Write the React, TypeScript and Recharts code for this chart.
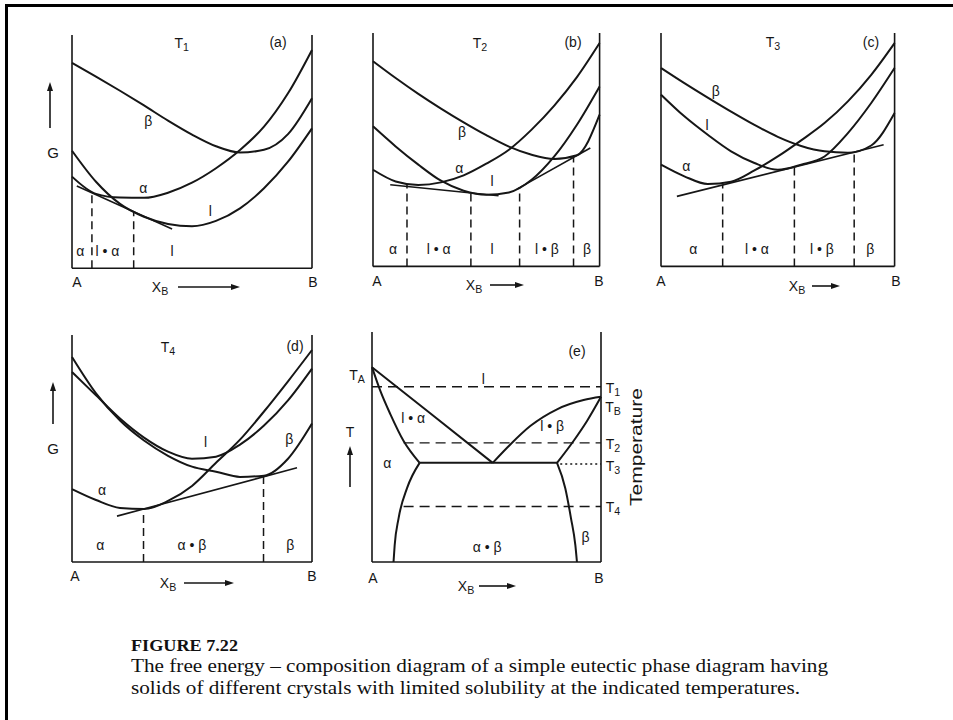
import React from 'react'
import { LineChart, Line, XAxis, YAxis, ReferenceLine, ReferenceDot } from 'recharts'

const INK = '#161616'
const FONT = '"Liberation Sans", Arial, sans-serif'
const SERIF = '"Liberation Serif", "DejaVu Serif", serif'
const M = 24

// composition grid shared by the G(x) curves, A = 0 .. B = 1
const gridX = [0, 0.1, 0.2, 0.3, 0.4, 0.5, 0.6, 0.7, 0.8, 0.9, 1]

// (a) T1
const aBeta = [88.1, 82.2, 76.1, 69.8, 63.3, 57.3, 52.3, 49.6, 50.8, 57.5, 72.9]
const aAlpha = [39.3, 31.9, 30.3, 30.2, 32.4, 36.7, 42.9, 50.7, 60.7, 75, 93.6]
const aLiquid = [50.4, 37.1, 27.6, 22.1, 19, 18, 20.3, 25.7, 34.3, 45.7, 60]
const aTangentX = [0.02, 0.417]
const aTangentG = [35.3, 16.8]
const aSplitX = [0.083, 0.257]
const aSplitG = [32.4, 24.3]
const aPhases = ['α', 'l • α', 'l']

// (b) T2
const bBeta = [87.9, 80.7, 73.9, 67.6, 61.7, 56.2, 51.3, 47.8, 46, 47.6, 65]
const bAlpha = [41.4, 36.4, 34.9, 36, 39, 44, 50, 58.6, 68.9, 81.1, 95.7]
const bLiquid = [60, 51.4, 43.6, 36.7, 32.4, 30.7, 31.7, 37.1, 47.1, 60.7, 77.1]
const bTangent1X = [0.076, 0.554]
const bTangent1G = [35, 30.3]
const bTangent2X = [0.635, 0.959]
const bTangent2G = [33.1, 50.7]
const bSplitX = [0.15, 0.432, 0.647, 0.885]
const bSplitG = [35, 31.7, 34, 46.4]
const bPhases = ['α', 'l • α', 'l', 'l • β', 'β']

// (c) T3
const cBeta = [85, 78.5, 72.3, 66.3, 60.6, 55.5, 51.6, 49.3, 48.7, 51.8, 65.7]
const cAlpha = [43.6, 38.6, 35.3, 36.3, 41.1, 47.1, 54, 61.4, 70.7, 82.1, 95.7]
const cLiquid = [73.6, 64.3, 56.4, 49.3, 44.3, 41.4, 43.6, 47.1, 57.1, 70, 85]
const cTangentX = [0.068, 0.953]
const cTangentG = [30, 52.1]
const cSplitX = [0.264, 0.571, 0.827]
const cSplitG = [35, 42.4, 49.3]
const cPhases = ['α', 'l • α', 'l • β', 'β']

// (d) T4
const dBeta = [90.3, 74.3, 62.3, 53.5, 46.8, 42, 39.8, 37.5, 38, 45.5, 61]
const dLiquid = [83.7, 73.4, 63.2, 54.8, 48.6, 45.5, 46.4, 51.7, 60.1, 71.2, 85.2]
const dAlpha = [32.1, 27.3, 23.8, 23.3, 26.9, 33.5, 43.7, 53.9, 66.3, 79.6, 93.4]
const dTangentX = [0.1875, 0.9375]
const dTangentG = [20.2, 41.5]
const dSplitX = [0.298, 0.798]
const dSplitG = [23.3, 37.5]
const dPhases = ['α', 'α • β', 'β']

// (e) phase diagram, T in % of panel height
const eLiqLeftX = [0, 0.25, 0.527]
const eLiqLeftT = [84.7, 65, 43.1]
const eLiqRightX = [0.527, 0.604, 0.691, 0.808, 0.924, 1]
const eLiqRightT = [43.1, 51.1, 59.1, 66.4, 70.4, 71.8]
const eSolLeftX = [0, 0.036, 0.08, 0.138, 0.208]
const eSolLeftT = [84.7, 74.5, 64.3, 52.6, 43.1]
const eSolRightX = [0.808, 0.88, 0.939, 1]
const eSolRightT = [43.1, 52.6, 61.3, 71.8]
const eSolvLeftX = [0.094, 0.099, 0.116, 0.153, 0.208]
const eSolvLeftT = [0, 7.3, 19, 32.1, 43.1]
const eSolvRightX = [0.808, 0.844, 0.869, 0.888, 0.895]
const eSolvRightT = [43.1, 32.1, 19, 7.3, 0]
const eEutecticX = [0.208, 0.808]
const eEutecticT = [43.1, 43.1]
const eIsoT = [76.2, 51.8, 42.6, 24.1]
const eIsoFrom = [0, 0.138, 0.822, 0.138]

type Box = { x: number; y: number; w: number; h: number }
type Tag = { t: string; x: number; y: number }

const A_BOX: Box = { x: 71.7, y: 35, w: 240, h: 233.3 }
const B_BOX: Box = { x: 372.7, y: 33.3, w: 226.6, h: 233.4 }
const C_BOX: Box = { x: 660.7, y: 33.3, w: 233.6, h: 233.4 }
const D_BOX: Box = { x: 71.7, y: 335, w: 240, h: 227 }
const E_BOX: Box = { x: 371.7, y: 331.7, w: 229, h: 230 }

const aTags: Tag[] = [
  { t: 'β', x: 0.318, y: 63.2 },
  { t: 'α', x: 0.297, y: 34.6 },
  { t: 'l', x: 0.576, y: 24.5 },
]
const bTags: Tag[] = [
  { t: 'β', x: 0.393, y: 57.6 },
  { t: 'α', x: 0.381, y: 42.3 },
  { t: 'l', x: 0.525, y: 36.5 },
]
const cTags: Tag[] = [
  { t: 'β', x: 0.235, y: 75.2 },
  { t: 'l', x: 0.197, y: 60.4 },
  { t: 'α', x: 0.108, y: 42.8 },
]
const dTags: Tag[] = [
  { t: 'l', x: 0.556, y: 52.7 },
  { t: 'β', x: 0.905, y: 54 },
  { t: 'α', x: 0.125, y: 31.5 },
]
const aPhaseX = [0.035, 0.148, 0.417]
const bPhaseX = [0.088, 0.29, 0.525, 0.768, 0.944]
const cPhaseX = [0.138, 0.411, 0.689, 0.896]
const dPhaseX = [0.118, 0.5, 0.91]
const eTags: Tag[] = [
  { t: 'l', x: 0.486, y: 79.7 },
  { t: 'l • α', x: 0.18, y: 62.6 },
  { t: 'l • β', x: 0.787, y: 59.1 },
  { t: 'α', x: 0.067, y: 42.9 },
  { t: 'α • β', x: 0.503, y: 6.6 },
  { t: 'β', x: 0.932, y: 11 },
]

function pts(xs: number[], ys: number[]) {
  return xs.map((x, i) => ({ x, g: ys[i] }))
}

function curve(key: string, xs: number[], ys: number[], kind: 'monotone' | 'linear' = 'monotone', width = 2) {
  return (
    <Line
      key={key}
      data={pts(xs, ys)}
      dataKey="g"
      type={kind}
      stroke={INK}
      strokeWidth={width}
      dot={false}
      activeDot={false}
      isAnimationActive={false}
    />
  )
}

function tag(key: string, x: number, y: number, text: string, size = 14) {
  return (
    <ReferenceDot
      key={key}
      x={x}
      y={y}
      r={0}
      fill="none"
      stroke="none"
      ifOverflow="visible"
      label={{ value: text, position: 'center', fill: INK, fontSize: size }}
    />
  )
}

type GPanelProps = {
  box: Box
  curves: number[][]
  tangents: number[][][]
  splitX: number[]
  splitG: number[]
  phases: string[]
  phaseX: number[]
  tags: Tag[]
}

function GPanel({ box, curves, tangents, splitX, splitG, phases, phaseX, tags }: GPanelProps) {
  return (
    <div style={{ position: 'absolute', left: box.x - M, top: box.y - M }}>
      <LineChart width={box.w + 2 * M} height={box.h + 2 * M} margin={{ top: M, right: M, bottom: M, left: M }}>
        <XAxis type="number" dataKey="x" domain={[0, 1]} hide />
        <YAxis type="number" domain={[0, 100]} hide />
        <ReferenceLine x={0} stroke={INK} strokeWidth={1.6} />
        <ReferenceLine x={1} stroke={INK} strokeWidth={1.6} />
        <ReferenceLine y={0} stroke={INK} strokeWidth={1.6} />
        {splitX.map((sx, i) => (
          <ReferenceLine
            key={'s' + i}
            segment={[{ x: sx, y: 0 }, { x: sx, y: splitG[i] }]}
            stroke={INK}
            strokeWidth={1.5}
            strokeDasharray="8 5"
          />
        ))}
        {curves.map((c, i) => curve('c' + i, gridX, c))}
        {tangents.map(([tx, tg], i) => curve('t' + i, tx, tg, 'linear', 1.6))}
        {phases.map((p, i) => tag('p' + i, phaseX[i], 7.5, p))}
        {tags.map((t, i) => tag('g' + i, t.x, t.y, t.t))}
      </LineChart>
    </div>
  )
}

function PhasePanel() {
  const box = E_BOX
  return (
    <div style={{ position: 'absolute', left: box.x - M, top: box.y - M }}>
      <LineChart width={box.w + 2 * M} height={box.h + 2 * M} margin={{ top: M, right: M, bottom: M, left: M }}>
        <XAxis type="number" dataKey="x" domain={[0, 1]} hide />
        <YAxis type="number" domain={[0, 100]} hide />
        <ReferenceLine x={0} stroke={INK} strokeWidth={1.6} />
        <ReferenceLine x={1} stroke={INK} strokeWidth={1.6} />
        <ReferenceLine y={0} stroke={INK} strokeWidth={1.6} />
        {eIsoT.map((t, i) => (
          <ReferenceLine
            key={'iso' + i}
            segment={[{ x: eIsoFrom[i], y: t }, { x: 1, y: t }]}
            stroke={INK}
            strokeWidth={1.4}
            strokeDasharray={i === 2 ? '2 3' : '10 6'}
          />
        ))}
        {curve('ll', eLiqLeftX, eLiqLeftT, 'linear')}
        {curve('lr', eLiqRightX, eLiqRightT)}
        {curve('sl', eSolLeftX, eSolLeftT)}
        {curve('sr', eSolRightX, eSolRightT)}
        {curve('vl', eSolvLeftX, eSolvLeftT)}
        {curve('vr', eSolvRightX, eSolvRightT)}
        {curve('eu', eEutecticX, eEutecticT, 'linear')}
        {eTags.map((t, i) => tag('e' + i, t.x, t.y, t.t))}
      </LineChart>
    </div>
  )
}

function Sub({ x, y, m, s, size = 14 }: { x: number; y: number; m: string; s: string; size?: number }) {
  return (
    <text x={x} y={y} textAnchor="middle" dominantBaseline="central" fontSize={size} fill={INK}>
      {m}
      <tspan dy={size * 0.3} fontSize={size * 0.76}>
        {s}
      </tspan>
    </text>
  )
}

function XArrow({ x, y, x1, x2 }: { x: number; y: number; x1: number; x2: number }) {
  return (
    <g>
      <Sub x={x} y={y} m="X" s="B" />
      <line x1={x1} y1={y} x2={x2 - 6} y2={y} stroke={INK} strokeWidth={1.6} />
      <polygon points={`${x2},${y} ${x2 - 9},${y - 3} ${x2 - 9},${y + 3}`} fill={INK} />
    </g>
  )
}

function UpArrow({ x, top, bottom }: { x: number; top: number; bottom: number }) {
  return (
    <g>
      <line x1={x} y1={bottom} x2={x} y2={top + 6} stroke={INK} strokeWidth={1.6} />
      <polygon points={`${x},${top} ${x - 3},${top + 9} ${x + 3},${top + 9}`} fill={INK} />
    </g>
  )
}

function Overlay() {
  const plain = (x: number, y: number, t: string, size = 14) => (
    <text x={x} y={y} textAnchor="middle" dominantBaseline="central" fontSize={size} fill={INK}>
      {t}
    </text>
  )
  return (
    <svg width={953} height={720} style={{ position: 'absolute', left: 0, top: 0, pointerEvents: 'none' }}>
      <g fontFamily={FONT}>
        <Sub x={181.7} y={43} m="T" s="1" />
        {plain(278, 42, '(a)')}
        <Sub x={480} y={43} m="T" s="2" />
        {plain(573, 42, '(b)')}
        <Sub x={773} y={42} m="T" s="3" />
        {plain(871, 42, '(c)')}
        <Sub x={168} y={347} m="T" s="4" />
        {plain(295, 346, '(d)')}
        {plain(577, 351, '(e)')}

        {plain(77, 282, 'A')}
        {plain(313, 282, 'B')}
        {plain(377, 281, 'A')}
        {plain(599, 281, 'B')}
        {plain(661, 281, 'A')}
        {plain(896, 281, 'B')}
        {plain(75, 576, 'A')}
        {plain(312, 576, 'B')}
        {plain(373, 578, 'A')}
        {plain(599, 578, 'B')}

        <XArrow x={160} y={287} x1={178} x2={240} />
        <XArrow x={474} y={285} x1={490} x2={524} />
        <XArrow x={797} y={286} x1={812} x2={840} />
        <XArrow x={168} y={583} x1={184} x2={234} />
        <XArrow x={466} y={586} x1={479} x2={516} />

        {plain(53, 152, 'G', 15)}
        <UpArrow x={50} top={82} bottom={128} />
        {plain(53, 448, 'G', 15)}
        <UpArrow x={53} top={382} bottom={424} />
        {plain(350, 432, 'T', 14)}
        <UpArrow x={350} top={446} bottom={487} />

        <Sub x={357} y={375} m="T" s="A" />
        <Sub x={613} y={388} m="T" s="1" />
        <Sub x={613} y={407} m="T" s="B" />
        <Sub x={613} y={444} m="T" s="2" />
        <Sub x={613} y={466} m="T" s="3" />
        <Sub x={613} y={507} m="T" s="4" />
        <text
          x={0}
          y={0}
          transform="translate(636,447) rotate(-90)"
          textAnchor="middle"
          dominantBaseline="central"
          fontSize={16}
          fill={INK}
          textLength={118}
          lengthAdjust="spacingAndGlyphs"
        >
          Temperature
        </text>
      </g>
      <g fontFamily={SERIF} fill="#111">
        <text x={131} y={651} fontSize={17} fontWeight="bold" textLength={107} lengthAdjust="spacingAndGlyphs">
          FIGURE 7.22
        </text>
        <text x={131} y={672} fontSize={18} textLength={697} lengthAdjust="spacingAndGlyphs">
          The free energy – composition diagram of a simple eutectic phase diagram having
        </text>
        <text x={131} y={694} fontSize={18} textLength={669} lengthAdjust="spacingAndGlyphs">
          solids of different crystals with limited solubility at the indicated temperatures.
        </text>
      </g>
    </svg>
  )
}

export default function App() {
  return (
    <div
      style={{
        position: 'absolute',
        left: 0,
        top: 0,
        width: 953,
        height: 720,
        background: '#fff',
        overflow: 'hidden',
        fontFamily: FONT,
      }}
    >
      <div
        style={{
          position: 'absolute',
          left: 5,
          top: 4,
          width: 948,
          height: 716,
          borderTop: '3px solid #000',
          borderLeft: '3px solid #000',
        }}
      />
      <GPanel
        box={A_BOX}
        curves={[aBeta, aAlpha, aLiquid]}
        tangents={[[aTangentX, aTangentG]]}
        splitX={aSplitX}
        splitG={aSplitG}
        phases={aPhases}
        phaseX={aPhaseX}
        tags={aTags}
      />
      <GPanel
        box={B_BOX}
        curves={[bBeta, bAlpha, bLiquid]}
        tangents={[
          [bTangent1X, bTangent1G],
          [bTangent2X, bTangent2G],
        ]}
        splitX={bSplitX}
        splitG={bSplitG}
        phases={bPhases}
        phaseX={bPhaseX}
        tags={bTags}
      />
      <GPanel
        box={C_BOX}
        curves={[cBeta, cAlpha, cLiquid]}
        tangents={[[cTangentX, cTangentG]]}
        splitX={cSplitX}
        splitG={cSplitG}
        phases={cPhases}
        phaseX={cPhaseX}
        tags={cTags}
      />
      <GPanel
        box={D_BOX}
        curves={[dBeta, dLiquid, dAlpha]}
        tangents={[[dTangentX, dTangentG]]}
        splitX={dSplitX}
        splitG={dSplitG}
        phases={dPhases}
        phaseX={dPhaseX}
        tags={dTags}
      />
      <PhasePanel />
      <Overlay />
    </div>
  )
}
